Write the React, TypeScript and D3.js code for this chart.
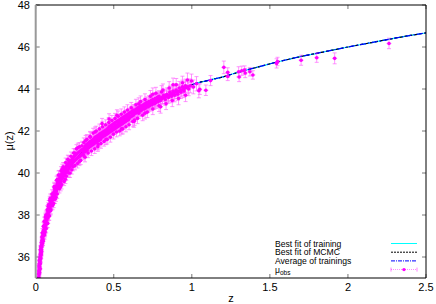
import React from "react";
import * as d3 from "d3";

const W = 436, H = 304;
const M = { left: 35.7, right: 426, top: 5, bottom: 278 };

const xTicks = [0, 0.5, 1, 1.5, 2, 2.5];
const xTickLabels = ["0", "0.5", "1", "1.5", "2", "2.5"];
const yTicks = [36, 38, 40, 42, 44, 46, 48];
const yTickLabels = ["36", "38", "40", "42", "44", "46", "48"];

const legendLabels = ["Best fit of training", "Best fit of MCMC", "Average of trainings", "μobs"];

// fitted curves (z, mu)
const fitZ = [0.012, 0.015, 0.02, 0.025, 0.03, 0.04, 0.05, 0.06, 0.07, 0.08, 0.09, 0.1, 0.12, 0.14, 0.16, 0.18, 0.2, 0.22, 0.25, 0.28, 0.3, 0.35, 0.4, 0.45, 0.5, 0.55, 0.6, 0.65, 0.7, 0.75, 0.8, 0.85, 0.9, 0.95, 1.0, 1.1, 1.2, 1.3, 1.4, 1.5, 1.6, 1.7, 1.8, 1.9, 2.0, 2.1, 2.2, 2.3, 2.4, 2.5];
const fitTraining = [34.0, 34.5, 35.1, 35.6, 36.0, 36.6, 37.1, 37.5, 37.8, 38.1, 38.35, 38.6, 39.0, 39.35, 39.65, 39.9, 40.1, 40.3, 40.6, 40.85, 41.0, 41.35, 41.65, 41.95, 42.2, 42.45, 42.7, 42.9, 43.1, 43.3, 43.5, 43.65, 43.85, 44.0, 44.2, 44.4, 44.58, 44.8, 45.0, 45.2, 45.38, 45.55, 45.7, 45.85, 46.0, 46.14, 46.28, 46.42, 46.55, 46.67];
const fitMCMC = [34.0, 34.5, 35.1, 35.6, 36.0, 36.6, 37.1, 37.5, 37.8, 38.1, 38.35, 38.6, 39.0, 39.35, 39.65, 39.9, 40.1, 40.3, 40.6, 40.85, 41.0, 41.35, 41.65, 41.95, 42.2, 42.45, 42.7, 42.9, 43.1, 43.3, 43.5, 43.65, 43.85, 44.0, 44.2, 44.4, 44.58, 44.8, 45.0, 45.2, 45.38, 45.55, 45.7, 45.85, 46.0, 46.14, 46.28, 46.42, 46.55, 46.67];
const fitAverage = [34.0, 34.5, 35.1, 35.6, 36.0, 36.6, 37.1, 37.5, 37.8, 38.1, 38.35, 38.6, 39.0, 39.35, 39.65, 39.9, 40.1, 40.3, 40.6, 40.85, 41.0, 41.35, 41.65, 41.95, 42.2, 42.45, 42.7, 42.9, 43.1, 43.3, 43.5, 43.65, 43.85, 44.0, 44.2, 44.4, 44.58, 44.8, 45.0, 45.2, 45.38, 45.55, 45.7, 45.85, 46.0, 46.14, 46.28, 46.42, 46.55, 46.67];

// observed points [z, mu, err]
const obsLowZ: number[][] = [
  [0.015,34.55,0.2],[0.016,34.7,0.19],[0.017,34.85,0.2],[0.017,34.6,0.18],[0.018,35.0,0.2],[0.019,35.05,0.18],[0.019,34.9,0.2],[0.020,35.2,0.19],[0.021,35.15,0.18],[0.021,35.35,0.2],[0.022,35.3,0.17],[0.023,35.5,0.18],[0.023,35.25,0.19],[0.024,35.55,0.17],[0.025,35.7,0.18],[0.025,35.45,0.2],[0.026,35.65,0.17],[0.027,35.8,0.16],[0.028,35.95,0.18],[0.028,35.7,0.17],[0.029,36.0,0.16],[0.030,36.1,0.17],[0.031,35.9,0.16],[0.032,36.2,0.17],[0.033,36.3,0.15],[0.034,36.15,0.16],[0.035,36.45,0.17],[0.036,36.35,0.16],[0.037,36.55,0.15],[0.038,36.5,0.17],[0.039,36.7,0.16],[0.040,36.6,0.15],[0.041,36.8,0.16],[0.042,36.65,0.17],[0.043,36.9,0.15],[0.044,36.8,0.16],[0.045,37.0,0.15],[0.046,36.85,0.17],[0.047,37.1,0.16],[0.048,37.0,0.15],[0.050,37.2,0.16],[0.051,37.05,0.17],[0.052,37.3,0.15],[0.054,37.25,0.16],[0.055,37.45,0.15],[0.056,37.3,0.17],[0.058,37.5,0.16],[0.060,37.45,0.15],[0.061,37.65,0.16],[0.063,37.6,0.17],[0.065,37.75,0.15],[0.066,37.55,0.16],[0.068,37.85,0.15],[0.070,37.75,0.16],[0.071,37.95,0.17],[0.073,37.9,0.15],[0.075,38.05,0.16],[0.076,37.85,0.16],[0.078,38.15,0.15],[0.080,38.05,0.17],[0.082,38.25,0.16],[0.084,38.15,0.15],[0.086,38.35,0.16],[0.088,38.2,0.17],[0.090,38.45,0.16],[0.092,38.35,0.15],[0.094,38.55,0.16],[0.096,38.45,0.17],[0.098,38.65,0.16],[0.100,38.55,0.15],
  [0.03,36.35,0.2],[0.035,36.1,0.18],[0.045,36.75,0.2],[0.05,37.45,0.19],[0.06,37.2,0.2],[0.065,38.0,0.19],[0.072,37.6,0.2],[0.08,38.4,0.18],[0.085,37.95,0.2],[0.09,38.7,0.19],[0.095,38.2,0.2],[0.04,36.95,0.2],[0.024,35.85,0.2],[0.027,35.45,0.19],[0.055,37.7,0.2],[0.058,37.15,0.2],
  [0.022,35.6,0.2],[0.026,35.4,0.2],[0.032,35.95,0.19],[0.034,36.5,0.2],[0.038,36.25,0.2],[0.043,37.15,0.2],[0.047,36.75,0.2],[0.053,37.5,0.2],[0.057,37.05,0.2],[0.062,37.9,0.19],[0.067,37.35,0.2],[0.074,38.25,0.2],[0.077,37.6,0.2],[0.083,38.5,0.19],[0.087,37.95,0.2],[0.093,38.8,0.2],[0.097,38.25,0.2]
];
const obsMidZ: number[][] = [
  [0.103,38.75,0.15],[0.105,38.5,0.16],[0.107,38.85,0.15],[0.109,38.7,0.16],[0.111,38.95,0.15],[0.113,38.75,0.17],[0.115,39.05,0.15],[0.117,38.85,0.16],[0.119,39.1,0.15],[0.121,38.9,0.16],[0.123,39.2,0.15],[0.125,39.0,0.17],[0.127,39.3,0.16],[0.129,39.1,0.15],[0.131,39.35,0.16],[0.133,39.15,0.15],[0.135,39.4,0.16],[0.137,39.25,0.17],[0.139,39.5,0.15],[0.141,39.3,0.16],[0.143,39.55,0.15],[0.145,39.4,0.16],[0.147,39.65,0.17],[0.149,39.45,0.15],[0.151,39.7,0.16],[0.153,39.5,0.15],[0.155,39.75,0.16],[0.157,39.55,0.17],[0.159,39.8,0.15],[0.161,39.6,0.16],[0.163,39.85,0.15],[0.165,39.7,0.16],[0.167,39.95,0.17],[0.169,39.75,0.15],[0.171,40.0,0.16],[0.173,39.8,0.15],[0.175,40.05,0.16],[0.177,39.85,0.17],[0.179,40.1,0.15],[0.181,39.9,0.16],[0.183,40.15,0.15],[0.185,39.95,0.16],[0.187,40.2,0.17],[0.189,40.0,0.15],[0.191,40.25,0.16],[0.193,40.05,0.15],[0.195,40.3,0.16],[0.197,40.1,0.17],[0.199,40.35,0.15],[0.202,40.05,0.16],[0.205,40.35,0.15],[0.208,40.15,0.16],[0.211,40.45,0.17],[0.214,40.25,0.15],[0.217,40.5,0.16],[0.220,40.3,0.15],[0.223,40.55,0.16],[0.226,40.35,0.17],[0.229,40.6,0.15],[0.232,40.4,0.16],[0.235,40.65,0.15],[0.238,40.5,0.16],[0.241,40.75,0.17],[0.244,40.55,0.15],[0.247,40.8,0.16],[0.250,40.6,0.15],[0.254,40.85,0.16],[0.258,40.65,0.17],[0.262,40.9,0.15],[0.266,40.7,0.16],[0.270,40.95,0.15],[0.274,40.75,0.16],[0.278,41.0,0.17],[0.282,40.8,0.15],[0.286,41.05,0.16],[0.290,40.85,0.15],[0.294,41.1,0.16],[0.298,40.9,0.17],
  [0.12,39.3,0.2],[0.13,38.85,0.2],[0.15,39.9,0.22],[0.16,39.35,0.2],[0.17,40.2,0.22],[0.19,39.7,0.2],[0.21,40.6,0.22],[0.24,40.3,0.2],[0.27,41.2,0.22],[0.28,40.55,0.2],[0.25,40.95,0.2],[0.22,40.0,0.21],[0.115,38.55,0.2],[0.14,39.7,0.2],
  [0.104,39.0,0.2],[0.108,38.45,0.2],[0.118,39.35,0.21],[0.124,38.75,0.2],[0.134,39.65,0.2],[0.138,39.0,0.21],[0.146,39.9,0.2],[0.152,39.25,0.2],[0.162,40.1,0.2],[0.166,39.45,0.21],[0.176,40.3,0.2],[0.182,39.6,0.2],[0.192,40.5,0.21],[0.196,39.85,0.2],[0.206,40.65,0.2],[0.212,40.0,0.21],[0.226,40.8,0.2],[0.231,40.15,0.2],[0.243,40.95,0.21],[0.252,40.35,0.2],[0.261,41.15,0.2],[0.268,40.45,0.21],[0.28,41.25,0.2],[0.288,40.6,0.2],[0.296,41.3,0.21]
];
const obsHighZ: number[][] = [
  [0.302,41.1,0.2],[0.306,40.85,0.22],[0.31,41.2,0.21],[0.314,41.0,0.2],[0.318,41.3,0.22],[0.322,41.05,0.21],[0.326,41.35,0.2],[0.33,41.1,0.22],[0.334,41.4,0.21],[0.338,41.2,0.2],[0.342,41.45,0.23],[0.346,41.25,0.21],[0.35,41.5,0.2],[0.355,41.3,0.22],[0.36,41.55,0.21],[0.365,41.35,0.2],[0.37,41.6,0.22],[0.375,41.4,0.21],[0.38,41.7,0.2],[0.385,41.45,0.23],[0.39,41.75,0.21],[0.395,41.5,0.2],[0.40,41.8,0.22],[0.405,41.55,0.21],[0.41,41.85,0.2],[0.415,41.6,0.22],[0.42,41.9,0.23],[0.425,41.7,0.21],[0.43,41.95,0.2],[0.435,41.75,0.22],[0.44,42.0,0.21],[0.445,41.8,0.23],[0.45,42.05,0.22],[0.455,41.85,0.21],[0.46,42.1,0.2],[0.465,41.9,0.23],[0.47,42.2,0.22],[0.475,41.95,0.21],[0.48,42.25,0.24],[0.485,42.0,0.22],[0.49,42.3,0.21],[0.495,42.05,0.23],[0.50,42.35,0.22],[0.505,42.1,0.24],[0.51,42.4,0.21],[0.515,42.15,0.23],[0.52,42.45,0.22],[0.525,42.2,0.24],[0.53,42.5,0.21],[0.535,42.25,0.23],[0.54,42.55,0.22],[0.545,42.3,0.24],[0.55,42.6,0.23],[0.555,42.35,0.22],[0.56,42.65,0.24],[0.565,42.4,0.23],[0.57,42.7,0.22],[0.575,42.45,0.24],[0.58,42.75,0.23],[0.585,42.5,0.25],[0.59,42.8,0.22],[0.595,42.55,0.24],[0.60,42.85,0.23],
  [0.425,42.35,0.25],[0.47,42.57,0.25],[0.35,41.7,0.24],[0.4,41.35,0.25],[0.55,42.1,0.25],[0.32,41.55,0.24],[0.45,41.6,0.25],[0.52,42.75,0.26],[0.38,41.95,0.24],
  [0.308,41.45,0.22],[0.316,40.75,0.22],[0.328,41.6,0.23],[0.336,40.95,0.22],[0.348,41.75,0.23],[0.357,41.05,0.22],[0.368,41.9,0.23],[0.378,41.15,0.22],[0.388,42.0,0.23],[0.398,41.25,0.22],[0.408,42.1,0.23],[0.418,41.4,0.22],[0.428,42.2,0.24],[0.438,41.5,0.22],[0.448,42.3,0.23],[0.458,41.6,0.22],[0.468,42.4,0.24],[0.478,41.7,0.23],[0.488,42.5,0.24],[0.498,41.85,0.23],[0.508,42.6,0.24],[0.518,41.95,0.23],[0.528,42.7,0.25],[0.538,42.0,0.23],[0.548,42.8,0.25],[0.558,42.1,0.24],[0.568,42.9,0.25],[0.578,42.2,0.24],[0.588,43.0,0.25],[0.598,42.3,0.24],
  [0.304,41.0,0.22],[0.313,41.1,0.22],[0.324,41.15,0.22],[0.333,41.25,0.22],[0.344,41.3,0.22],[0.353,41.4,0.22],[0.363,41.45,0.22],[0.373,41.5,0.23],[0.383,41.55,0.23],[0.393,41.65,0.23],[0.403,41.7,0.23],[0.413,41.75,0.23],[0.423,41.8,0.23],[0.433,41.85,0.23],[0.443,41.9,0.23],[0.453,41.95,0.24],[0.463,42.0,0.24],[0.473,42.05,0.24],[0.483,42.1,0.24],[0.493,42.15,0.24],[0.503,42.2,0.24],[0.513,42.25,0.24],[0.523,42.3,0.24],[0.533,42.35,0.24],[0.543,42.4,0.25],[0.553,42.45,0.25],[0.563,42.5,0.25],[0.573,42.55,0.25],[0.583,42.6,0.25],[0.593,42.65,0.25],
  [0.605,42.65,0.24],[0.61,42.9,0.25],[0.615,42.7,0.23],[0.62,42.95,0.25],[0.625,42.75,0.24],[0.63,43.0,0.26],[0.633,42.52,0.25],[0.64,42.85,0.24],[0.645,43.05,0.26],[0.65,42.9,0.25],[0.655,43.1,0.24],[0.66,42.85,0.26],[0.665,43.15,0.25],[0.67,42.95,0.27],[0.675,43.2,0.25],[0.68,43.0,0.26],[0.69,43.25,0.25],[0.695,43.05,0.27],[0.70,43.3,0.26],[0.705,43.1,0.25],[0.71,43.35,0.27],[0.72,43.15,0.26],[0.725,43.4,0.28],[0.73,43.2,0.26],[0.74,43.45,0.27],[0.745,43.25,0.26],[0.75,43.5,0.28],[0.76,43.3,0.27],[0.765,43.55,0.26],[0.77,43.35,0.28],[0.78,43.6,0.27],[0.785,43.4,0.29],[0.79,43.65,0.27],[0.80,43.45,0.28],[0.806,43.86,0.3],[0.81,43.55,0.27],[0.82,43.7,0.29],[0.83,43.5,0.28],[0.84,43.75,0.3],[0.85,43.6,0.28],[0.86,43.85,0.29],[0.87,43.65,0.3],[0.88,43.9,0.29],[0.89,43.7,0.31],[0.90,43.95,0.3],[0.91,43.75,0.29],[0.92,44.05,0.31],[0.93,43.85,0.3],[0.94,44.1,0.32],[0.95,43.9,0.31],[0.96,44.15,0.32],[0.972,44.43,0.33],[0.98,44.0,0.32],[0.998,44.38,0.33],[1.01,44.1,0.33],[1.03,44.25,0.34],[1.045,43.92,0.34],
  [0.66,43.3,0.28],[0.7,42.85,0.28],[0.75,43.75,0.3],[0.8,43.15,0.3],[0.88,44.2,0.32],[0.63,42.45,0.27],
  [0.612,43.1,0.26],[0.622,42.45,0.25],[0.642,43.25,0.26],[0.652,42.6,0.25],[0.672,43.4,0.27],[0.685,42.75,0.26],[0.7,43.5,0.27],[0.715,42.9,0.26],[0.735,43.65,0.28],[0.75,43.05,0.27],[0.77,43.8,0.28],[0.79,43.2,0.27],[0.815,43.95,0.29],[0.835,43.3,0.28],[0.855,44.05,0.3],[0.875,43.45,0.29],[0.9,44.2,0.3],[0.915,43.55,0.3],[0.94,44.3,0.31],[0.96,43.7,0.3],
  [0.603,42.7,0.25],[0.618,42.8,0.25],[0.628,42.85,0.26],[0.638,42.9,0.26],[0.648,42.95,0.26],[0.658,43.0,0.26],[0.668,43.05,0.26],[0.678,43.1,0.27],[0.688,43.15,0.27],[0.698,43.15,0.27],[0.708,43.2,0.27],[0.718,43.25,0.27],[0.728,43.3,0.28],[0.738,43.35,0.28],[0.748,43.4,0.28],[0.758,43.4,0.28],[0.768,43.45,0.28],[0.778,43.5,0.29],[0.788,43.5,0.29],[0.798,43.55,0.29],[0.812,43.6,0.29],[0.825,43.6,0.3],[0.838,43.65,0.3],[0.852,43.7,0.3],[0.865,43.75,0.3],[0.878,43.8,0.31],[0.892,43.85,0.31],[0.905,43.85,0.31],[0.918,43.9,0.31],[0.932,43.95,0.32],[0.945,44.0,0.32],[0.958,44.05,0.32],[0.975,44.1,0.33],[0.99,44.15,0.33]
];
const obsVeryHighZ: number[][] = [
  [1.051,43.99,0.25],[1.09,43.94,0.25],[1.12,44.40,0.24],[1.205,45.03,0.3],[1.23,44.79,0.22],[1.23,44.60,0.2],[1.30,44.82,0.24],[1.303,44.57,0.22],[1.32,44.87,0.22],[1.338,44.90,0.2],[1.342,44.76,0.22],[1.372,44.82,0.2],[1.391,44.67,0.2],[1.543,45.22,0.22],[1.549,45.31,0.2],[1.70,45.37,0.24],[1.80,45.49,0.22],[1.915,45.46,0.26],[2.263,46.17,0.25]
];

const FONT = "'Liberation Sans', Arial, Helvetica, sans-serif";

export default function App() {
  const x = d3.scaleLinear().domain([0, 2.5]).range([M.left, M.right]);
  const y = d3.scaleLinear().domain([35, 48]).range([M.bottom, M.top]);
  const mk = (vals: number[]) =>
    d3.line<number>().x((_, i) => x(fitZ[i])).y((d) => y(d)).curve(d3.curveMonotoneX)(vals) || "";
  const obs = [...obsLowZ, ...obsMidZ, ...obsHighZ, ...obsVeryHighZ];
  const magenta = "#ff00ff";
  const legY = [243.5, 252.2, 260.9, 269.6];
  const lx0 = 391, lx1 = 417;

  return (
    <svg width={W} height={H} style={{ position: "absolute", left: 0, top: 0, background: "#fff" }} fontFamily={FONT}>
      <defs>
        <clipPath id="plot">
          <rect x={M.left} y={M.top} width={M.right - M.left} height={M.bottom - M.top} />
        </clipPath>
      </defs>
      <rect width={W} height={H} fill="#fff" />
      {yTicks.map((t) => (
        <g key={"yt" + t}>
          <line x1={M.left} x2={M.left + 4} y1={y(t)} y2={y(t)} stroke="#777" strokeWidth={1} />
          <line x1={M.right - 4} x2={M.right} y1={y(t)} y2={y(t)} stroke="#777" strokeWidth={1} />
        </g>
      ))}
      {xTicks.map((t) => (
        <g key={"xt" + t}>
          <line x1={x(t)} x2={x(t)} y1={M.bottom} y2={M.bottom - 4} stroke="#777" strokeWidth={1} />
          <line x1={x(t)} x2={x(t)} y1={M.top} y2={M.top + 4} stroke="#777" strokeWidth={1} />
        </g>
      ))}
      <g clipPath="url(#plot)">
        <path d={mk(fitTraining)} fill="none" stroke="#00ffff" strokeWidth={1.2} />
        <path d={mk(fitMCMC)} fill="none" stroke="#000" strokeWidth={1.2} strokeDasharray="3,2" />
        <path d={mk(fitAverage)} fill="none" stroke="#0000ff" strokeWidth={1.2} strokeDasharray="6,2,1.5,2" />
        <g stroke={magenta} strokeWidth={0.7} opacity={0.6}>
          {obs.map((p, i) => (
            <g key={"e" + i}>
              <line x1={x(p[0])} x2={x(p[0])} y1={y(p[1] - p[2])} y2={y(p[1] + p[2])} />
              <line x1={x(p[0]) - 2} x2={x(p[0]) + 2} y1={y(p[1] - p[2])} y2={y(p[1] - p[2])} />
              <line x1={x(p[0]) - 2} x2={x(p[0]) + 2} y1={y(p[1] + p[2])} y2={y(p[1] + p[2])} />
              <line x1={x(p[0]) - 2.5} x2={x(p[0]) + 2.5} y1={y(p[1])} y2={y(p[1])} />
            </g>
          ))}
        </g>
        {obs.map((p, i) => (
          <circle key={"p" + i} cx={x(p[0])} cy={y(p[1])} r={1.8} fill={magenta} />
        ))}
      </g>
      <line x1={M.left} x2={M.right} y1={M.top} y2={M.top} stroke="#000" strokeWidth={1} />
      <line x1={M.right} x2={M.right} y1={M.top} y2={M.bottom} stroke="#000" strokeWidth={1} />
      <line x1={M.left} x2={M.right} y1={M.bottom} y2={M.bottom} stroke="#000" strokeWidth={1} />
      <line x1={M.left} x2={M.left} y1={M.top} y2={M.bottom} stroke="#999" strokeWidth={2} />
      {yTicks.map((t, i) => (
        <text key={"yl" + t} x={30} y={y(t)} dy="0.35em" textAnchor="end" fontSize={11} fill="#000">{yTickLabels[i]}</text>
      ))}
      {xTicks.map((t, i) => (
        <text key={"xl" + t} x={x(t)} y={291} textAnchor="middle" fontSize={11} fill="#000">{xTickLabels[i]}</text>
      ))}
      <text x={231} y={302} textAnchor="middle" fontSize={11}>z</text>
      <text transform="translate(13,141) rotate(-90)" textAnchor="middle" fontSize={11}>μ(z)</text>
      {legendLabels.map((l, i) => (
        <text key={"lg" + i} x={275} y={legY[i]} dy="0.35em" fontSize={8.6}>
          {i === 3 ? (<>{"μ"}<tspan fontSize={6.5} dy="2">obs</tspan></>) : l}
        </text>
      ))}
      <line x1={lx0} x2={lx1} y1={legY[0]} y2={legY[0]} stroke="#00ffff" strokeWidth={1} />
      <line x1={lx0} x2={lx1} y1={legY[1]} y2={legY[1]} stroke="#000" strokeWidth={1} strokeDasharray="2,1" />
      <line x1={lx0} x2={lx1} y1={legY[2]} y2={legY[2]} stroke="#0000ff" strokeWidth={1} strokeDasharray="4,1,1,1" />
      <g stroke={magenta}>
        <line x1={lx0} x2={lx1} y1={legY[3]} y2={legY[3]} strokeWidth={0.7} strokeDasharray="1,1" opacity={0.7} />
        <line x1={lx0} x2={lx0} y1={legY[3] - 2} y2={legY[3] + 2} strokeWidth={0.7} opacity={0.7} />
        <line x1={lx1} x2={lx1} y1={legY[3] - 2} y2={legY[3] + 2} strokeWidth={0.7} opacity={0.7} />
      </g>
      <circle cx={(lx0 + lx1) / 2} cy={legY[3]} r={1.7} fill={magenta} />
    </svg>
  );
}
